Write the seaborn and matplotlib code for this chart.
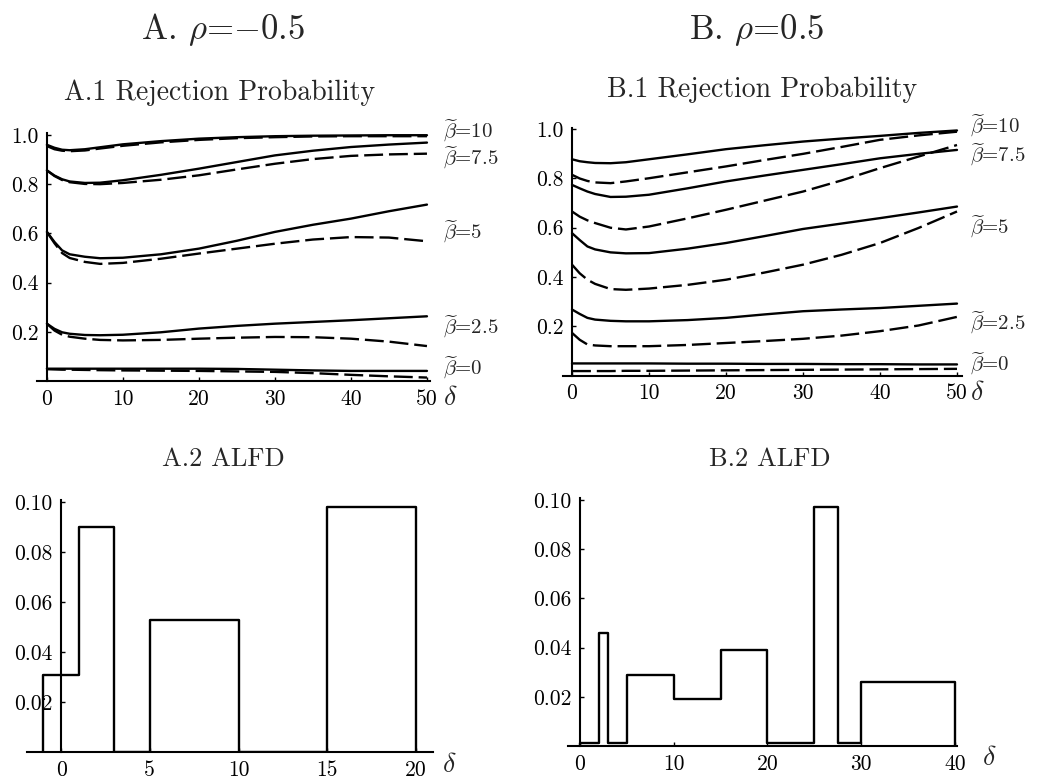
import numpy as np
import pandas as pd
import matplotlib
matplotlib.use("Agg")
import matplotlib.pyplot as plt
import seaborn as sns

# delta grid the curves were read at
delta = [0, 1, 2, 3, 5, 7, 10, 15, 20, 25, 30, 35, 40, 45, 50]
betas = ["10", "7.5", "5", "2.5", "0"]

# A. rho = -0.5, solid / dashed rejection probabilities
a_solid_10 = [0.960, 0.948, 0.940, 0.938, 0.942, 0.950, 0.962, 0.975, 0.985, 0.991, 0.995, 0.997, 0.998, 0.999, 0.999]
a_dash_10 = [0.955, 0.942, 0.936, 0.934, 0.937, 0.945, 0.956, 0.970, 0.980, 0.987, 0.991, 0.994, 0.995, 0.995, 0.995]
a_solid_75 = [0.856, 0.835, 0.820, 0.811, 0.805, 0.806, 0.816, 0.838, 0.863, 0.890, 0.917, 0.936, 0.951, 0.961, 0.969]
a_dash_75 = [0.856, 0.833, 0.817, 0.808, 0.801, 0.800, 0.805, 0.818, 0.836, 0.860, 0.883, 0.902, 0.915, 0.921, 0.924]
a_solid_5 = [0.606, 0.565, 0.531, 0.515, 0.505, 0.499, 0.501, 0.515, 0.538, 0.570, 0.606, 0.635, 0.660, 0.690, 0.717]
a_dash_5 = [0.606, 0.560, 0.520, 0.500, 0.484, 0.476, 0.480, 0.497, 0.518, 0.538, 0.558, 0.575, 0.585, 0.583, 0.568]
a_solid_25 = [0.233, 0.212, 0.198, 0.192, 0.187, 0.186, 0.188, 0.198, 0.213, 0.224, 0.233, 0.240, 0.247, 0.255, 0.263]
a_dash_25 = [0.233, 0.205, 0.188, 0.180, 0.172, 0.167, 0.165, 0.167, 0.172, 0.176, 0.179, 0.178, 0.172, 0.160, 0.142]
a_solid_0 = [0.050, 0.050, 0.050, 0.050, 0.050, 0.050, 0.050, 0.050, 0.050, 0.049, 0.046, 0.043, 0.041, 0.041, 0.041]
a_dash_0 = [0.048, 0.047, 0.046, 0.046, 0.045, 0.044, 0.043, 0.042, 0.041, 0.039, 0.037, 0.032, 0.025, 0.019, 0.014]

# B. rho = 0.5
b_solid_10 = [0.878, 0.870, 0.866, 0.863, 0.862, 0.866, 0.878, 0.898, 0.919, 0.935, 0.950, 0.962, 0.973, 0.985, 0.995]
b_dash_10 = [0.815, 0.800, 0.790, 0.784, 0.781, 0.788, 0.801, 0.825, 0.849, 0.875, 0.900, 0.928, 0.957, 0.975, 0.990]
b_solid_75 = [0.774, 0.760, 0.747, 0.737, 0.725, 0.726, 0.734, 0.760, 0.788, 0.812, 0.835, 0.858, 0.882, 0.900, 0.916]
b_dash_75 = [0.666, 0.645, 0.630, 0.619, 0.600, 0.593, 0.605, 0.638, 0.673, 0.710, 0.747, 0.792, 0.842, 0.889, 0.936]
b_solid_5 = [0.578, 0.550, 0.524, 0.512, 0.500, 0.496, 0.497, 0.515, 0.538, 0.566, 0.595, 0.617, 0.639, 0.662, 0.686]
b_dash_5 = [0.450, 0.415, 0.389, 0.372, 0.351, 0.348, 0.353, 0.368, 0.389, 0.418, 0.450, 0.490, 0.538, 0.599, 0.666]
b_solid_25 = [0.268, 0.250, 0.234, 0.227, 0.222, 0.220, 0.220, 0.225, 0.234, 0.248, 0.261, 0.268, 0.274, 0.283, 0.292]
b_dash_25 = [0.173, 0.145, 0.126, 0.122, 0.119, 0.119, 0.119, 0.124, 0.132, 0.140, 0.149, 0.162, 0.180, 0.203, 0.238]
b_solid_0 = [0.049, 0.049, 0.049, 0.049, 0.049, 0.049, 0.049, 0.048, 0.048, 0.047, 0.047, 0.046, 0.046, 0.045, 0.045]
b_dash_0 = [0.018, 0.018, 0.018, 0.018, 0.018, 0.019, 0.019, 0.020, 0.021, 0.022, 0.023, 0.024, 0.025, 0.026, 0.027]

# ALFD step densities
a_edges = [-1, 1, 3, 5, 10, 15, 20]
a_heights = [0.031, 0.090, 0.0, 0.053, 0.0, 0.098]
b_edges = [0, 2, 3, 5, 10, 15, 20, 25, 27.5, 30, 40]
b_heights = [0.0013, 0.046, 0.0013, 0.029, 0.019, 0.039, 0.0013, 0.097, 0.0013, 0.026]


def curves_frame(solid, dashed):
    rows = []
    for b, s, d in zip(betas, solid, dashed):
        for x, ys, yd in zip(delta, s, d):
            rows.append((x, ys, b, "solid"))
            rows.append((x, yd, b, "dashed"))
    return pd.DataFrame(rows, columns=["delta", "prob", "beta", "test"])


def step_frame(edges, heights):
    # outline of the density: rise at the first edge, drop at the last
    xs = [edges[0]] + list(edges)
    ys = [0.0] + list(heights) + [0.0]
    return pd.DataFrame({"delta": xs, "dens": ys})


df_a = curves_frame([a_solid_10, a_solid_75, a_solid_5, a_solid_25, a_solid_0],
                    [a_dash_10, a_dash_75, a_dash_5, a_dash_25, a_dash_0])
df_b = curves_frame([b_solid_10, b_solid_75, b_solid_5, b_solid_25, b_solid_0],
                    [b_dash_10, b_dash_75, b_dash_5, b_dash_25, b_dash_0])

sns.set_theme(style="white")
plt.rcParams["font.family"] = ["cmr10", "DejaVu Serif"]
plt.rcParams["mathtext.fontset"] = "cm"
plt.rcParams["axes.formatter.use_mathtext"] = True
plt.rcParams["axes.unicode_minus"] = False

W, H = 1038, 778
fig = plt.figure(figsize=(W / 100, H / 100), dpi=100)


def px_axes(left, right, top, bottom):
    return fig.add_axes([left / W, 1 - bottom / H, (right - left) / W, (bottom - top) / H])


def style_axes(ax):
    for s in ["top", "right"]:
        ax.spines[s].set_visible(False)
    for s in ["left", "bottom"]:
        ax.spines[s].set_color("black")
        ax.spines[s].set_linewidth(1.5)
    ax.spines["left"].set_position(("data", 0))
    ax.set_facecolor("white")
    ax.tick_params(direction="in", length=3, width=1, labelsize=15.5, pad=6,
                   color="black", labelcolor="black", left=True, bottom=True)
    ax.set_xlabel("")
    ax.set_ylabel("")


def rp_panel(ax, df, xlim, ylim, label_x, label_y):
    sns.lineplot(data=df, x="delta", y="prob", units="beta", style="test",
                 estimator=None, color="black", linewidth=1.7, legend=False,
                 dashes={"solid": "", "dashed": (8, 2.5)}, ax=ax)
    ax.set_xlim(*xlim)
    ax.set_ylim(*ylim)
    ax.set_xticks([0, 10, 20, 30, 40, 50])
    ax.set_xticklabels(["0", "10", "20", "30", "40", "50"])
    ax.set_yticks([0.2, 0.4, 0.6, 0.8, 1.0])
    ax.set_yticklabels(["0.2", "0.4", "0.6", "0.8", "1.0"])
    style_axes(ax)
    for b, y in zip(betas, label_y):
        ax.text(label_x, y, r"$\widetilde{\beta}$=" + b, fontsize=15,
                ha="left", va="center", clip_on=False)
    ax.text(label_x, -0.07, r"$\delta$", fontsize=20, ha="left", va="center", clip_on=False)


def alfd_panel(ax, edges, heights, xlim, xticks, dlab_x):
    sns.lineplot(data=step_frame(edges, heights), x="delta", y="dens", sort=False,
                 estimator=None, drawstyle="steps-post", color="black",
                 linewidth=1.7, ax=ax)
    ax.set_xlim(*xlim)
    ax.set_ylim(0, 0.1008)
    ax.set_xticks(xticks)
    ax.set_xticklabels([str(t) for t in xticks])
    ax.set_yticks([0.02, 0.04, 0.06, 0.08, 0.10])
    ax.set_yticklabels(["0.02", "0.04", "0.06", "0.08", "0.10"])
    style_axes(ax)
    ax.text(dlab_x, -0.005, r"$\delta$", fontsize=20, ha="left", va="center", clip_on=False)


ax1 = px_axes(37, 430, 133, 381)
rp_panel(ax1, df_a, (-1.3, 50.4), (0, 1.008), 52.1, [1.018, 0.905, 0.606, 0.220, 0.053])

ax2 = px_axes(563, 962, 128, 375.5)
rp_panel(ax2, df_b, (-1.17, 50.65), (0, 1.005), 51.7, [1.015, 0.897, 0.603, 0.213, 0.047])

ax3 = px_axes(27, 433, 500, 752)
alfd_panel(ax3, a_edges, a_heights, (-1.92, 20.96), [0, 5, 10, 15, 20], 21.45)

ax4 = px_axes(567.7, 957.3, 498, 746)
alfd_panel(ax4, b_edges, b_heights, (-1.31, 40.25), [0, 10, 20, 30, 40], 42.85)

fig.text(223 / W, 1 - 39 / H, r"A. $\rho$=$-$0.5", fontsize=25, ha="center", va="baseline")
fig.text(757 / W, 1 - 39 / H, r"B. $\rho$=0.5", fontsize=25, ha="center", va="baseline")
fig.text(220 / W, 1 - 100 / H, "A.1 Rejection Probability", fontsize=20, ha="center", va="baseline")
fig.text(762 / W, 1 - 97 / H, "B.1 Rejection Probability", fontsize=20, ha="center", va="baseline")
fig.text(223 / W, 1 - 466 / H, "A.2 ALFD", fontsize=19, ha="center", va="baseline")
fig.text(770 / W, 1 - 466 / H, "B.2 ALFD", fontsize=19, ha="center", va="baseline")

fig.savefig("out.png", dpi=100, facecolor="white")
